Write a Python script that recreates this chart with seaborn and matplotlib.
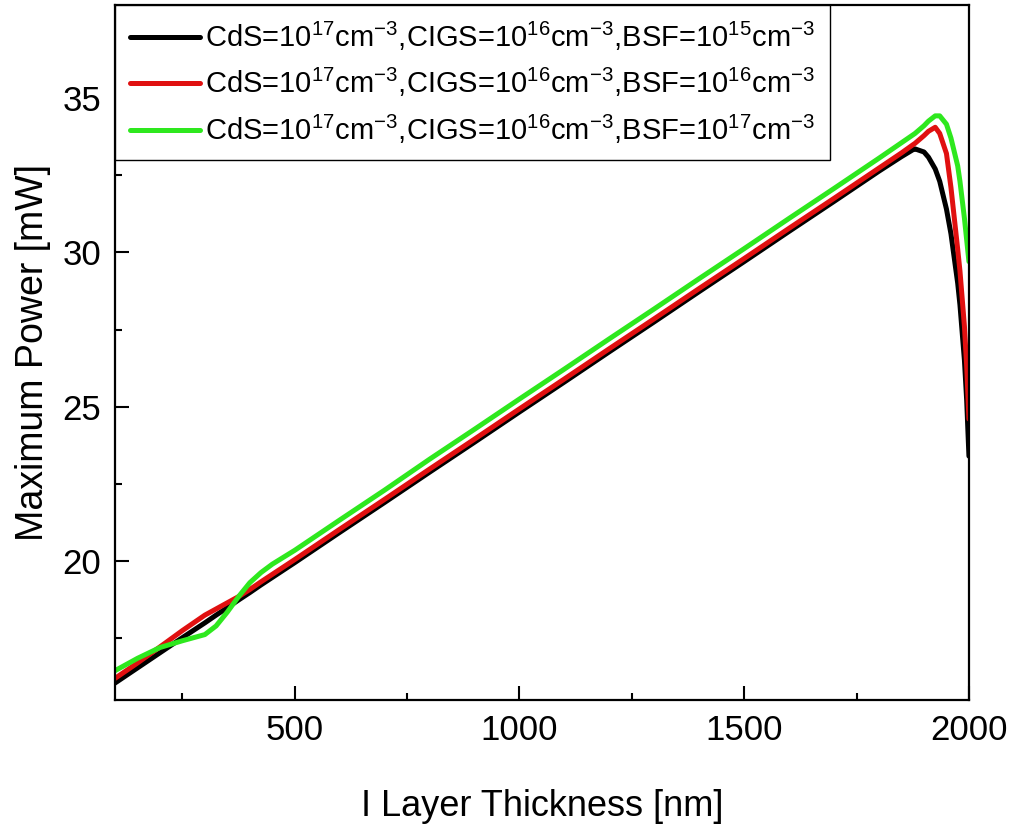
import pandas as pd
import seaborn as sns
import matplotlib.pyplot as plt
from matplotlib.ticker import MultipleLocator

# Values
thickness = [100, 150, 200, 250, 275, 300, 325, 350, 375, 400, 425, 450, 500, 600, 700,
             800, 900, 1000, 1100, 1200, 1300, 1400, 1500, 1600, 1700, 1800,
             1850, 1875, 1880, 1900, 1910, 1925, 1935, 1950, 1960, 1975, 1980,
             1990, 1995, 2000]

bsf15 = [16.05, 16.54, 17.03, 17.52, 17.76, 18.0, 18.25, 18.49, 18.74, 18.98, 19.23,
         19.47, 19.95, 20.93, 21.9, 22.88, 23.85, 24.83, 25.8, 26.78, 27.75, 28.73,
         29.7, 30.68, 31.65, 32.63, 33.1, 33.32, 33.35, 33.25, 33.08, 32.7, 32.3,
         31.4, 30.6, 29.0, 28.3, 26.5, 25.2, 23.4]

bsf16 = [16.2, 16.7, 17.22, 17.75, 18.0, 18.25, 18.45, 18.65, 18.85, 19.08, 19.33,
         19.57, 20.05, 21.03, 22.0, 22.98, 23.95, 24.93, 25.9, 26.88, 27.85, 28.83,
         29.8, 30.78, 31.75, 32.73, 33.22, 33.48, 33.53, 33.78, 33.92, 34.05, 33.85,
         33.2, 32.1, 30.1, 29.4, 27.6, 26.3, 24.6]

bsf17 = [16.45, 16.85, 17.2, 17.42, 17.52, 17.62, 17.9, 18.35, 18.85, 19.3, 19.63,
         19.9, 20.35, 21.33, 22.3, 23.3, 24.27, 25.25, 26.22, 27.2, 28.17, 29.15,
         30.12, 31.1, 32.07, 33.05, 33.55, 33.8, 33.85, 34.1, 34.25, 34.42, 34.42,
         34.15, 33.7, 32.8, 32.3, 31.1, 30.4, 29.7]

labels = [r'CdS=10$^{17}$cm$^{-3}$,CIGS=10$^{16}$cm$^{-3}$,BSF=10$^{15}$cm$^{-3}$',
          r'CdS=10$^{17}$cm$^{-3}$,CIGS=10$^{16}$cm$^{-3}$,BSF=10$^{16}$cm$^{-3}$',
          r'CdS=10$^{17}$cm$^{-3}$,CIGS=10$^{16}$cm$^{-3}$,BSF=10$^{17}$cm$^{-3}$']
colors = ['#000000', '#e01010', '#2ee81e']

df = pd.concat([
    pd.DataFrame({'thickness': thickness, 'power': vals, 'case': lab})
    for vals, lab in zip([bsf15, bsf16, bsf17], labels)
])

sns.set_style('ticks')
plt.rcParams['font.family'] = ['Liberation Sans', 'DejaVu Sans']
plt.rcParams['mathtext.fontset'] = 'custom'
plt.rcParams['mathtext.rm'] = 'Liberation Sans'
plt.rcParams['mathtext.it'] = 'Liberation Sans:italic'
plt.rcParams['mathtext.bf'] = 'Liberation Sans:bold'
plt.rcParams['text.color'] = 'black'
plt.rcParams['axes.labelcolor'] = 'black'
plt.rcParams['xtick.color'] = 'black'
plt.rcParams['ytick.color'] = 'black'

fig = plt.figure(figsize=(10.13, 8.31), dpi=100)
ax = fig.add_axes([0.1135, 0.1576, 0.843, 0.836])

sns.lineplot(data=df, x='thickness', y='power', hue='case', palette=colors,
             estimator=None, sort=False, linewidth=3.6, ax=ax)

ax.set_xlim(100, 2000)
ax.set_ylim(15.5, 38)
ax.xaxis.set_major_locator(MultipleLocator(500))
ax.xaxis.set_minor_locator(MultipleLocator(250))
ax.yaxis.set_major_locator(MultipleLocator(5))
ax.yaxis.set_minor_locator(MultipleLocator(2.5))
ax.tick_params(which='both', direction='in', top=False, right=False,
               width=1.5, labelsize=25, pad=10)
ax.tick_params(which='major', length=10)
ax.tick_params(which='minor', length=5)
for s in ax.spines.values():
    s.set_linewidth(1.6)
    s.set_color('black')

ax.set_xlabel('I Layer Thickness [nm]', fontsize=26, labelpad=30)
ax.set_ylabel('Maximum Power [mW]', fontsize=27, labelpad=8)

leg = ax.legend(loc='upper left', bbox_to_anchor=(0, 1), borderaxespad=0,
                fontsize=21, frameon=True, fancybox=False, handlelength=2.4,
                handletextpad=0.2, labelspacing=0.45, borderpad=0.5)
leg.get_frame().set_edgecolor('black')
leg.get_frame().set_linewidth(1.0)
leg.get_frame().set_alpha(1)

plt.savefig('out.png', dpi=100)
